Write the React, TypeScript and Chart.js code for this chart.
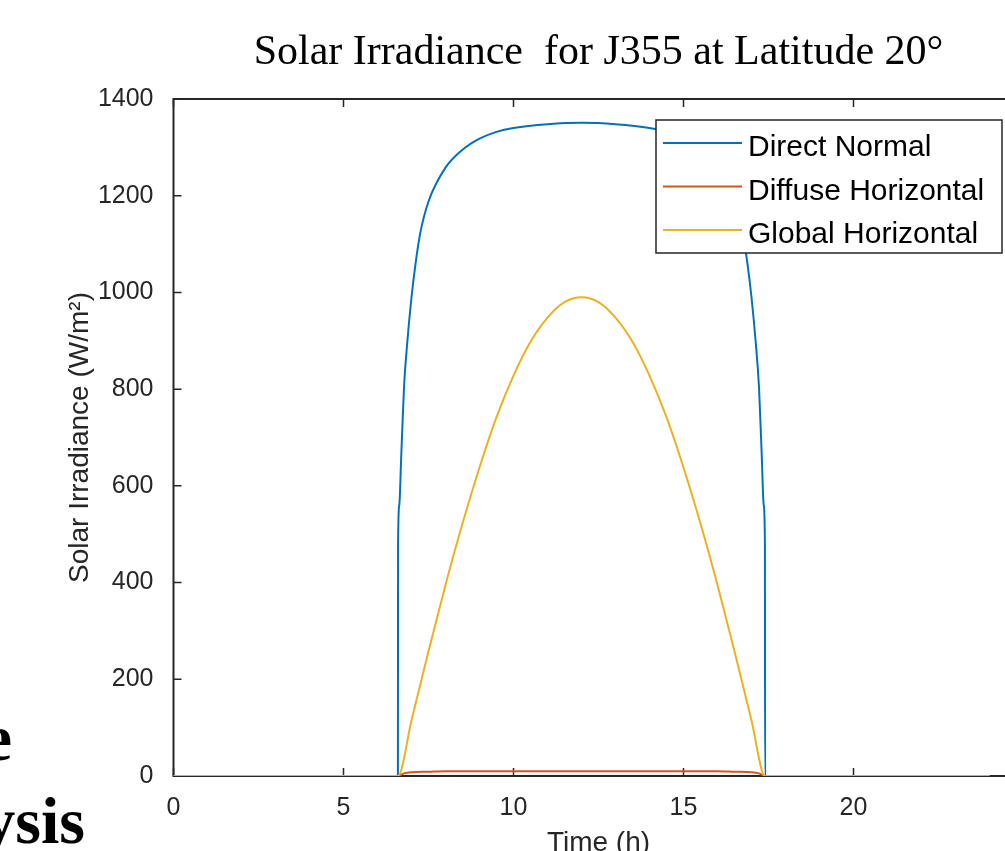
import React, { useEffect, useRef } from "react";
import { Chart, registerables } from "chart.js";

Chart.register(...registerables);

// ---------- data ----------
const TITLE = "Solar Irradiance  for J355 at Latitude 20°";
const X_LABEL = "Time (h)";
const Y_LABEL = "Solar Irradiance (W/m²)";
const X_MIN = 0;
const X_MAX = 25;
const X_STEP = 5;
const Y_MIN = 0;
const Y_MAX = 1400;
const Y_STEP = 200;

const seriesNames = ["Direct Normal", "Diffuse Horizontal", "Global Horizontal"];
const seriesColors = ["#0072BD", "#D95319", "#EDB120"];

const directTimes = [0, 6.6, 6.605, 6.64, 6.7, 6.78, 6.88, 7.0, 7.12, 7.25, 7.5, 8.0, 8.5, 9.0, 9.5, 10, 11, 12, 13, 14, 14.5, 15, 15.5, 16, 16.5, 16.75, 16.88, 17.0, 17.12, 17.22, 17.3, 17.36, 17.395, 17.4, 24];
const directValues = [0, 0, 480, 560, 665, 805, 900, 990, 1060, 1120, 1188, 1258, 1295, 1318, 1332, 1340, 1348, 1351, 1348, 1340, 1332, 1318, 1295, 1258, 1188, 1120, 1060, 990, 900, 805, 665, 560, 480, 0, 0];

const diffuseTimes = [0, 6.6, 6.8, 7.0, 7.5, 8.0, 12, 16, 16.5, 17.0, 17.2, 17.4, 24];
const diffuseValues = [0, 0, 6, 8, 9, 10, 10, 10, 9, 8, 6, 0, 0];

const globalTimes = [0, 6.6, 7.0, 7.5, 8.0, 8.5, 9.0, 9.5, 10, 10.5, 11, 11.5, 12, 12.5, 13, 13.5, 14, 14.5, 15, 15.5, 16, 16.5, 17.0, 17.4, 24];
const globalValues = [0, 0, 115, 258, 395, 522, 638, 742, 828, 898, 948, 980, 990, 980, 948, 898, 828, 742, 638, 522, 395, 258, 115, 0, 0];

// ---------- style ----------
const AXIS_COLOR = "#262626";
const SANS = "'Liberation Sans', Arial, sans-serif";
const SERIF = "'Liberation Serif', 'Times New Roman', serif";
const CANVAS_W = 1060;
const CANVAS_H = 880;

function toPoints(xs: number[], ys: number[]) {
  return xs.map((x, i) => ({ x, y: ys[i] }));
}

const framePlugin = {
  id: "matlabFrame",
  beforeDatasetsDraw(chart: any) {
    const { ctx, chartArea: a, scales } = chart;
    const TICK = 8;
    ctx.save();
    ctx.strokeStyle = AXIS_COLOR;
    ctx.lineWidth = 2;
    ctx.strokeRect(a.left, a.top, a.right - a.left, a.bottom - a.top);
    ctx.lineWidth = 1.5;
    ctx.beginPath();
    scales.x.ticks.forEach((t: any) => {
      const px = scales.x.getPixelForValue(t.value);
      ctx.moveTo(px, a.bottom);
      ctx.lineTo(px, a.bottom - TICK);
      ctx.moveTo(px, a.top);
      ctx.lineTo(px, a.top + TICK);
    });
    scales.y.ticks.forEach((t: any) => {
      const py = scales.y.getPixelForValue(t.value);
      ctx.moveTo(a.left, py);
      ctx.lineTo(a.left + TICK, py);
      ctx.moveTo(a.right, py);
      ctx.lineTo(a.right - TICK, py);
    });
    ctx.stroke();
    ctx.restore();
  },
  afterDraw(chart: any) {
    const { ctx, chartArea: a } = chart;
    ctx.save();
    // title
    ctx.fillStyle = "#000";
    ctx.font = `42px ${SERIF}`;
    ctx.textAlign = "center";
    ctx.textBaseline = "alphabetic";
    ctx.fillText(TITLE, (a.left + a.right) / 2, 64);

    // legend (north-east inside axes)
    const boxRight = a.right - 21.5;
    const boxTop = a.top + 21;
    const boxW = 346;
    const boxH = 133;
    const boxLeft = boxRight - boxW;
    ctx.fillStyle = "#fff";
    ctx.fillRect(boxLeft, boxTop, boxW, boxH);
    ctx.strokeStyle = AXIS_COLOR;
    ctx.lineWidth = 1.5;
    ctx.strokeRect(boxLeft, boxTop, boxW, boxH);
    ctx.font = `30px ${SANS}`;
    ctx.textAlign = "left";
    chart.data.datasets.forEach((ds: any, i: number) => {
      const rowY = boxTop + 23 + i * 43.5;
      ctx.strokeStyle = ds.borderColor;
      ctx.lineWidth = 2;
      ctx.beginPath();
      ctx.moveTo(boxLeft + 7, rowY);
      ctx.lineTo(boxLeft + 86, rowY);
      ctx.stroke();
      ctx.fillStyle = "#000";
      ctx.fillText(ds.label, boxLeft + 92, rowY + 13);
    });
    ctx.restore();
  },
};

function slideText(top: number, right: number): React.CSSProperties {
  return {
    position: "absolute",
    left: -300,
    width: 300 + right,
    top,
    textAlign: "right",
    font: `bold 66px ${SERIF}`,
    lineHeight: "80px",
    color: "#000",
    whiteSpace: "nowrap",
  };
}

export default function App() {
  const ref = useRef<HTMLCanvasElement>(null);

  useEffect(() => {
    if (!ref.current) return;
    const datasets = [
      { times: directTimes, values: directValues, order: 2 },
      { times: diffuseTimes, values: diffuseValues, order: 1 },
      { times: globalTimes, values: globalValues, order: 0 },
    ].map((s, i) => ({
      label: seriesNames[i],
      data: toPoints(s.times, s.values),
      borderColor: seriesColors[i],
      backgroundColor: seriesColors[i],
      borderWidth: 2,
      pointRadius: 0,
      fill: false,
      cubicInterpolationMode: "monotone" as const,
      order: s.order,
    }));

    const chart = new Chart(ref.current, {
      type: "line",
      data: { datasets },
      options: {
        animation: false,
        responsive: false,
        devicePixelRatio: 1,
        layout: { padding: { left: 0, top: 99, right: CANVAS_W - 1023.5, bottom: 0 } },
        plugins: {
          legend: { display: false },
          title: { display: false },
          tooltip: { enabled: false },
        },
        scales: {
          x: {
            type: "linear",
            min: X_MIN,
            max: X_MAX,
            grid: { display: false },
            border: { display: false },
            ticks: {
              stepSize: X_STEP,
              color: AXIS_COLOR,
              font: { family: SANS, size: 25 },
              padding: 9,
              maxRotation: 0,
              callback: (v: any) => String(v),
            },
            title: {
              display: true,
              text: X_LABEL,
              color: AXIS_COLOR,
              font: { family: SANS, size: 28 },
              padding: { top: 0, bottom: 20 },
            },
            afterFit: (scale: any) => {
              scale.height = CANVAS_H - 776;
            },
          },
          y: {
            type: "linear",
            min: Y_MIN,
            max: Y_MAX,
            grid: { display: false },
            border: { display: false },
            ticks: {
              stepSize: Y_STEP,
              color: AXIS_COLOR,
              font: { family: SANS, size: 25 },
              padding: 12,
              callback: (v: any) => String(v),
            },
            title: {
              display: true,
              text: Y_LABEL,
              color: AXIS_COLOR,
              font: { family: SANS, size: 28 },
              padding: { top: 63.5, bottom: 0 },
            },
            afterFit: (scale: any) => {
              scale.width = 173.5;
            },
          },
        },
      },
      plugins: [framePlugin],
    });
    return () => chart.destroy();
  }, []);

  return (
    <div
      style={{
        position: "fixed",
        left: 0,
        top: 0,
        width: 1005,
        height: 851,
        overflow: "hidden",
        background: "#fff",
      }}
    >
      <div style={slideText(698, 12)}>e</div>
      <div style={slideText(781, 85)}>ysis</div>
      <canvas
        ref={ref}
        width={CANVAS_W}
        height={CANVAS_H}
        style={{ position: "absolute", left: 0, top: 0, width: CANVAS_W, height: CANVAS_H }}
      />
    </div>
  );
}
